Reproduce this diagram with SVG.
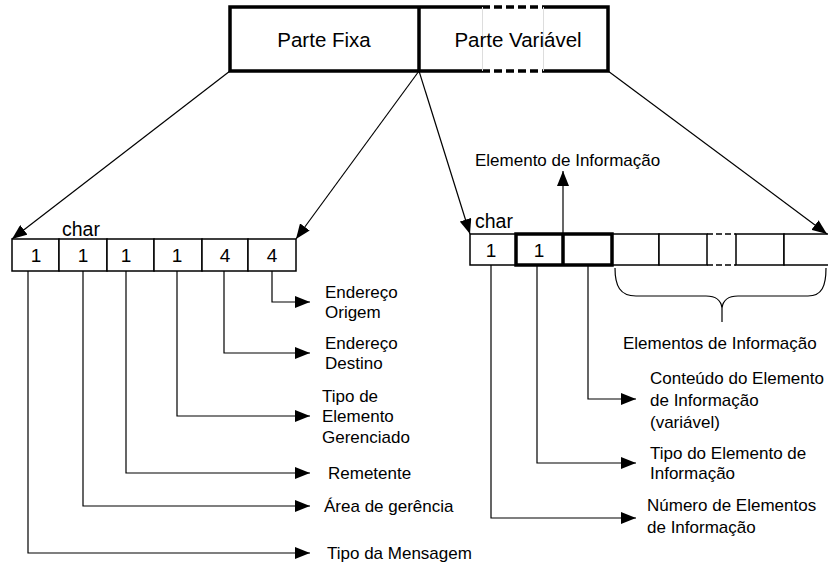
<svg xmlns="http://www.w3.org/2000/svg" width="828" height="562" viewBox="0 0 828 562">
<defs>
<marker id="ah" markerUnits="userSpaceOnUse" markerWidth="16" markerHeight="12" refX="15" refY="6" orient="auto">
<path d="M0,0 L15,6 L0,12 Z" fill="#000"/>
</marker>
<style>
text{font-family:"Liberation Sans",Arial,sans-serif;fill:#000;}
.lbl{font-size:17px;}
.big{font-size:20.5px;}
.dig{font-size:19px;}
.chr{font-size:19.5px;}
.cell{fill:#fff;stroke:#000;stroke-width:1.5;}
.bold{fill:none;stroke:#000;stroke-width:3.5;}
.arr{fill:none;stroke:#000;stroke-width:1.2;marker-end:url(#ah);}
</style>
</defs>
<rect width="828" height="562" fill="#fff"/>

<g id="top-box">
<rect x="230" y="7" width="378" height="64" fill="#fff" stroke="none"/>
<path d="M482,7 L230,7 L230,71 L482,71 M543,7 L608,7 L608,71 L543,71 M419,7 L419,71" fill="none" stroke="#000" stroke-width="3.5"/>
<path d="M482,7 L543,7 M482,71 L543,71" fill="none" stroke="#000" stroke-width="3.5" stroke-dasharray="8,4"/>
<path d="M482.5,7 L482.5,71 M543.5,7 L543.5,71" stroke="#ddd" stroke-width="1"/>
<text class="big" x="324" y="47" text-anchor="middle">Parte Fixa</text>
<text class="big" x="518" y="47" text-anchor="middle">Parte Variável</text>
</g>

<g id="fixed-array">
<text class="chr" x="62" y="236">char</text>
<rect class="cell" x="12" y="239" width="47" height="32"/>
<rect class="cell" x="59" y="239" width="48" height="32"/>
<rect class="cell" x="107" y="239" width="47" height="32"/>
<rect class="cell" x="154" y="239" width="48" height="32"/>
<rect class="cell" x="202" y="239" width="46" height="32"/>
<rect class="cell" x="248" y="239" width="48" height="32"/>
<text class="dig" x="36" y="262" text-anchor="middle">1</text>
<text class="dig" x="83" y="262" text-anchor="middle">1</text>
<text class="dig" x="126" y="262" text-anchor="middle">1</text>
<text class="dig" x="177" y="262" text-anchor="middle">1</text>
<text class="dig" x="225" y="262" text-anchor="middle">4</text>
<text class="dig" x="272" y="262" text-anchor="middle">4</text>
</g>

<g id="var-array">
<text class="chr" x="475" y="228">char</text>
<rect class="cell" x="470" y="234" width="46" height="31"/>
<rect class="cell" x="612" y="234" width="47" height="31"/>
<rect class="cell" x="659" y="234" width="48" height="31"/>
<rect class="cell" x="736" y="234" width="48" height="31"/>
<rect class="cell" x="784" y="234" width="50" height="31"/>
<path d="M707,234 L736,234 M707,265 L736,265" stroke="#000" stroke-width="1.5" stroke-dasharray="6,3"/>
<rect class="bold" x="516" y="234" width="96" height="31"/>
<line x1="563" y1="234" x2="563" y2="265" stroke="#000" stroke-width="3.5"/>
<text class="dig" x="491" y="257" text-anchor="middle">1</text>
<text class="dig" x="539" y="257" text-anchor="middle">1</text>
<path d="M615,268 C615,286 620,296 636,296 L706,296 C716,296 721,300 722,308 C723,300 728,296 738,296 L808,296 C822,296 826,286 826,268 M722,308 L722,322" fill="none" stroke="#000" stroke-width="1.2"/>
</g>

<g id="connectors">
<line class="arr" x1="230" y1="71" x2="12" y2="239"/>
<line class="arr" x1="419" y1="71" x2="296" y2="239"/>
<line class="arr" x1="419" y1="71" x2="470" y2="234"/>
<line class="arr" x1="608" y1="71" x2="827" y2="234"/>
<line class="arr" x1="563" y1="234" x2="563" y2="171"/>
<polyline class="arr" points="272,271 272,302 310,302"/>
<polyline class="arr" points="224,271 224,353 310,353"/>
<polyline class="arr" points="177,271 177,416 310,416"/>
<polyline class="arr" points="126,271 126,473 310,473"/>
<polyline class="arr" points="83,271 83,506 310,506"/>
<polyline class="arr" points="28,271 28,553 310,553"/>
<polyline class="arr" points="588,265 588,399 636,399"/>
<polyline class="arr" points="537,265 537,463 636,463"/>
<polyline class="arr" points="491,265 491,518 636,518"/>
</g>

<g id="labels">
<text class="lbl" x="475" y="166">Elemento de Informação</text>
<text class="lbl" x="325" y="298">Endereço</text>
<text class="lbl" x="325" y="318">Origem</text>
<text class="lbl" x="325" y="349">Endereço</text>
<text class="lbl" x="325" y="369">Destino</text>
<text class="lbl" x="322" y="402">Tipo de</text>
<text class="lbl" x="322" y="422">Elemento</text>
<text class="lbl" x="322" y="443">Gerenciado</text>
<text class="lbl" x="328" y="479">Remetente</text>
<text class="lbl" x="324" y="512">Área de gerência</text>
<text class="lbl" x="327" y="559">Tipo da Mensagem</text>
<text class="lbl" x="623" y="349">Elementos de Informação</text>
<text class="lbl" x="650" y="384">Conteúdo do Elemento</text>
<text class="lbl" x="650" y="406">de Informação</text>
<text class="lbl" x="650" y="428">(variável)</text>
<text class="lbl" x="650" y="459">Tipo do Elemento de</text>
<text class="lbl" x="650" y="479">Informação</text>
<text class="lbl" x="647" y="511">Número de Elementos</text>
<text class="lbl" x="647" y="533">de Informação</text>
</g>
</svg>
